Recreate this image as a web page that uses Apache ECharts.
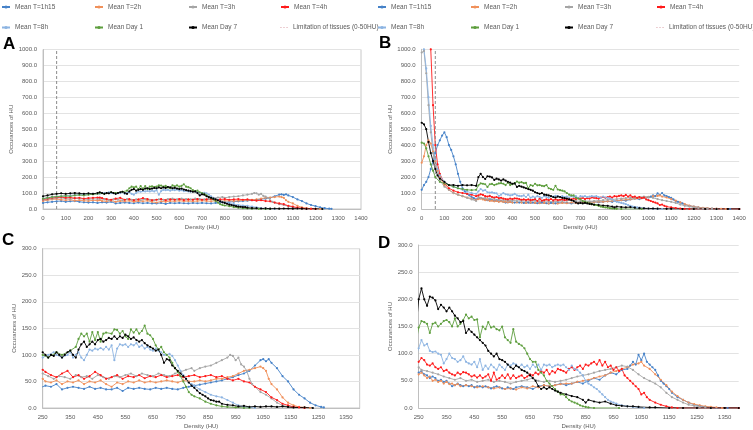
<!DOCTYPE html>
<html><head><meta charset="utf-8">
<script src="https://cdn.jsdelivr.net/npm/echarts@6/dist/echarts.min.js"></script>
<style>html,body{margin:0;padding:0;background:#fff}#c{width:753px;height:430px}</style>
</head><body><div id="c"></div>
<script>
// ---------- DATA ----------
const seriesNames = ['Mean T=1h15','Mean T=2h','Mean T=3h','Mean T=4h','Mean T=8h','Mean Day 1','Mean Day 7'];
const limitName = 'Limitation of tissues (0-50HU)';
const limitHU = [[60,0],[60,1000]];
const xTicksAB = [0,100,200,300,400,500,600,700,800,900,1000,1100,1200,1300,1400];
const xTicksCD = [250,350,450,550,650,750,850,950,1050,1150,1250,1350];

// Data set shown in panels A and C
const A_T1h15 = [[0,38],[20,42],[40,45],[60,48],[80,50],[100,45],[120,48],[140,50],[160,45],[180,42],[200,40],[220,42],[240,38],[260,42],[280,40],[300,45],[320,35],[340,38],[360,40],[380,38],[400,36],[420,40],[440,36],[460,38],[480,35],[500,35],[520,38],[540,32],[560,38],[580,36],[600,38],[620,36],[640,35],[660,38],[680,36],[700,38],[720,36],[740,35],[760,38],[780,40],[800,42],[820,44],[840,46],[860,48],[880,50],[900,52],[920,55],[940,58],[960,62],[980,65],[1000,70],[1020,80],[1040,90],[1050,92],[1060,88],[1070,92],[1080,85],[1100,75],[1120,60],[1140,50],[1160,35],[1180,25],[1200,18],[1220,10],[1240,5],[1260,2],[1270,1]];
const A_T2h = [[0,50],[20,55],[40,60],[60,62],[80,58],[100,55],[120,58],[140,52],[160,55],[180,52],[200,50],[220,55],[240,52],[250,55],[260,50],[280,48],[300,52],[320,45],[340,50],[360,48],[380,52],[400,45],[420,50],[440,48],[460,52],[480,45],[500,40],[520,48],[540,45],[560,50],[580,48],[600,52],[620,48],[640,50],[660,48],[680,50],[700,52],[720,50],[740,48],[760,52],[780,50],[800,50],[820,52],[840,50],[860,52],[880,55],[900,55],[920,58],[940,60],[960,65],[980,70],[1000,72],[1020,75],[1040,78],[1050,75],[1060,70],[1070,55],[1080,45],[1100,35],[1120,20],[1140,10],[1160,5],[1180,2],[1200,1],[1220,0]];
const A_T3h = [[0,55],[20,60],[40,65],[60,68],[80,70],[100,65],[120,62],[140,68],[160,65],[180,62],[200,60],[220,64],[240,62],[250,65],[270,60],[290,55],[310,60],[330,58],[350,55],[370,62],[390,58],[410,60],[430,55],[450,62],[470,58],[490,55],[510,60],[530,58],[550,62],[570,65],[590,60],[610,65],[630,62],[650,60],[670,65],[690,62],[710,60],[730,65],[750,68],[770,72],[790,75],[800,70],[820,75],[840,78],[860,80],[880,85],[900,90],[920,95],[930,100],[940,98],[950,90],[960,95],[970,82],[980,78],[990,70],[1000,55],[1010,45],[1020,40],[1040,30],[1060,25],[1080,18],[1100,10],[1120,5],[1140,2],[1160,0]];
const A_T4h = [[0,60],[20,65],[40,70],[60,72],[80,75],[100,70],[120,72],[140,68],[160,70],[180,65],[200,68],[220,70],[240,72],[250,72],[260,68],[280,62],[300,58],[320,65],[340,70],[360,58],[380,62],[400,55],[420,60],[440,68],[460,62],[480,55],[500,58],[520,62],[540,55],[560,60],[580,58],[600,62],[620,56],[640,60],[660,58],[680,62],[700,58],[720,60],[740,62],[760,58],[780,60],[800,62],[820,58],[840,60],[860,62],[880,58],[900,60],[920,55],[940,52],[960,55],[980,50],[1000,48],[1020,40],[1040,35],[1060,30],[1080,20],[1100,15],[1120,8],[1140,5],[1160,2],[1180,1],[1200,0]];
const A_T8h = [[0,65],[20,70],[40,75],[60,78],[80,80],[100,82],[120,85],[140,88],[160,90],[180,88],[200,92],[220,95],[240,95],[250,95],[270,100],[290,105],[300,100],[320,95],[340,100],[350,105],[360,95],[370,100],[380,105],[390,95],[400,90],[410,100],[420,110],[430,108],[440,112],[450,110],[460,113],[470,110],[480,115],[490,110],[500,118],[510,90],[520,112],[530,120],[540,118],[550,120],[560,115],[570,120],[580,118],[590,122],[600,115],[610,118],[620,112],[630,115],[640,110],[650,108],[660,112],[670,108],[680,105],[690,100],[700,100],[710,102],[720,98],[730,90],[740,80],[750,70],[760,62],[770,55],[780,48],[790,45],[800,42],[820,35],[840,30],[860,25],[880,22],[900,20],[920,15],[940,10],[960,5],[980,2],[1000,1],[1020,0]];
const A_Day1 = [[0,65],[20,70],[40,75],[60,78],[80,80],[100,82],[120,80],[140,85],[160,88],[180,85],[200,90],[220,92],[240,95],[250,100],[270,95],[300,105],[320,100],[350,108],[370,115],[380,130],[390,140],[400,135],[410,140],[420,125],[430,143],[440,128],[450,143],[460,125],[470,140],[480,142],[500,140],[510,148],[520,147],[530,140],[540,145],[550,135],[560,130],[570,148],[580,142],[590,148],[600,140],[610,145],[620,155],[630,140],[640,137],[650,130],[660,118],[670,110],[680,115],[690,105],[700,100],[710,95],[720,85],[730,75],[740,68],[750,60],[760,50],[770,40],[780,30],[790,25],[800,22],[820,18],[840,12],[860,8],[880,5],[900,3],[920,2],[950,1],[980,0],[1000,0]];
const A_Day7 = [[0,80],[20,85],[40,92],[60,95],[80,98],[100,95],[120,98],[140,100],[160,98],[180,95],[200,98],[220,95],[240,100],[250,105],[260,100],[270,95],[280,100],[290,98],[300,105],[310,100],[320,95],[330,100],[340,105],[350,108],[360,100],[370,95],[380,110],[390,120],[400,125],[410,115],[420,120],[430,125],[440,120],[450,128],[460,130],[470,125],[480,128],[490,132],[500,130],[510,135],[520,130],[530,135],[540,132],[550,138],[560,135],[570,130],[580,133],[590,128],[600,125],[610,128],[620,122],[630,118],[640,115],[650,112],[660,108],[670,110],[680,100],[690,85],[700,92],[710,90],[720,80],[730,75],[740,70],[750,65],[760,60],[770,55],[780,48],[790,42],[800,38],[810,33],[820,28],[830,25],[840,22],[850,18],[860,15],[870,14],[880,12],[890,12],[900,8],[920,6],[940,5],[960,3],[980,4],[1000,2],[1020,3],[1040,2],[1060,3],[1080,3],[1100,2],[1120,3],[1140,2],[1160,1],[1200,1],[1230,0]];

// Data set shown in panels B and D
const B_T1h15 = [[0,120],[10,150],[20,170],[30,200],[40,250],[50,300],[60,350],[70,400],[80,430],[90,460],[100,480],[110,450],[120,400],[130,370],[140,330],[150,280],[160,220],[170,170],[180,130],[190,110],[200,95],[210,85],[220,75],[230,68],[240,60],[250,65],[260,68],[270,62],[280,60],[290,55],[300,58],[310,55],[320,50],[330,52],[340,48],[350,50],[360,45],[370,40],[380,42],[390,45],[400,42],[410,40],[420,42],[430,40],[440,42],[450,38],[460,40],[470,40],[480,38],[490,40],[500,38],[510,36],[520,38],[530,40],[540,38],[550,36],[560,35],[570,38],[580,36],[590,35],[600,38],[620,40],[640,38],[660,35],[680,40],[700,42],[720,40],[740,42],[760,45],[780,42],[800,45],[820,48],[840,45],[860,50],[880,55],[900,52],[920,60],[940,65],[960,62],[980,70],[1000,72],[1010,78],[1020,85],[1030,80],[1040,98],[1050,88],[1060,100],[1070,85],[1080,80],[1090,75],[1100,70],[1110,60],[1120,50],[1130,45],[1140,40],[1150,35],[1160,28],[1180,20],[1200,15],[1220,10],[1240,6],[1260,4],[1280,2],[1300,1],[1320,0],[1360,0],[1400,0]];
const B_T2h = [[0,290],[10,330],[20,400],[30,430],[40,410],[50,360],[60,300],[70,240],[80,200],[100,150],[120,120],[140,100],[160,90],[180,80],[200,72],[220,65],[240,55],[250,62],[260,65],[270,60],[280,55],[290,58],[300,50],[310,52],[320,48],[330,50],[340,45],[350,48],[360,44],[370,45],[380,42],[390,44],[400,40],[420,42],[440,40],[460,38],[480,40],[500,38],[520,36],[540,38],[560,35],[580,36],[600,34],[620,38],[640,36],[660,40],[680,38],[700,42],[720,40],[740,42],[760,44],[780,45],[800,45],[820,48],[840,50],[860,52],[880,55],[900,58],[920,60],[940,65],[960,68],[980,72],[1000,75],[1020,80],[1040,82],[1050,85],[1060,78],[1080,72],[1100,62],[1120,52],[1140,42],[1160,30],[1180,22],[1200,15],[1220,10],[1240,7],[1260,5],[1280,3],[1300,2],[1320,1],[1340,0],[1400,0]];
const B_T3h = [[0,980],[10,990],[20,850],[30,650],[40,480],[50,350],[60,270],[70,220],[80,180],[100,140],[120,120],[140,100],[160,90],[180,80],[200,70],[220,60],[240,50],[250,75],[260,70],[280,68],[300,65],[320,62],[340,58],[360,55],[380,52],[400,55],[420,50],[440,52],[460,48],[480,50],[500,52],[520,48],[540,50],[560,48],[580,45],[600,48],[620,50],[640,52],[660,55],[680,50],[700,48],[720,50],[740,48],[760,50],[780,52],[800,55],[820,58],[840,60],[860,62],[880,65],[900,68],[920,70],[940,72],[960,75],[980,78],[1000,76],[1020,70],[1040,62],[1060,55],[1080,50],[1100,45],[1120,38],[1140,28],[1160,20],[1180,15],[1200,10],[1220,6],[1240,4],[1260,2],[1280,1],[1300,0],[1400,0]];
const B_T4h = [[0,2500],[10,2000],[20,1600],[30,1250],[40,1000],[50,650],[60,400],[70,280],[80,220],[100,160],[120,130],[140,115],[160,105],[180,100],[200,95],[220,90],[240,80],[250,85],[260,92],[270,88],[280,80],[290,78],[300,82],[310,75],[320,72],[330,75],[340,68],[350,70],[360,65],[370,62],[380,60],[390,65],[400,62],[410,66],[420,65],[430,62],[440,58],[450,60],[460,56],[470,60],[480,55],[490,58],[500,62],[510,50],[520,65],[530,52],[540,55],[550,60],[560,55],[570,62],[580,54],[590,60],[600,55],[610,58],[620,60],[630,55],[640,58],[650,62],[660,60],[670,65],[680,62],[690,68],[700,65],[710,70],[720,62],[730,68],[740,65],[750,72],[760,70],[770,68],[780,65],[790,72],[800,75],[810,70],[820,75],[830,78],[840,72],[850,80],[860,78],[870,82],[880,85],[890,80],[900,88],[910,78],[920,85],[930,75],[940,78],[950,70],[960,75],[970,68],[980,72],[990,60],[1000,55],[1010,50],[1020,45],[1030,40],[1040,35],[1050,25],[1060,28],[1070,20],[1080,15],[1100,10],[1120,6],[1140,3],[1160,1],[1180,0],[1400,0]];
const B_T8h = [[0,1080],[10,1000],[20,880],[30,700],[40,520],[50,400],[60,310],[70,250],[80,210],[100,170],[120,150],[140,140],[160,130],[180,120],[200,110],[220,100],[240,95],[250,110],[260,125],[270,115],[280,118],[290,105],[300,103],[310,104],[320,100],[330,98],[340,82],[350,90],[360,100],[370,92],[380,90],[390,85],[400,88],[410,95],[420,85],[430,82],[440,80],[450,85],[460,75],[470,90],[480,70],[490,78],[500,72],[510,80],[520,75],[530,70],[540,80],[550,75],[560,70],[570,80],[580,78],[590,82],[600,80],[610,75],[620,80],[630,75],[640,78],[650,72],[660,80],[670,75],[680,80],[690,70],[700,80],[710,78],[720,80],[730,75],[740,78],[750,80],[760,78],[770,80],[780,75],[790,70],[800,78],[810,72],[820,70],[830,65],[840,60],[850,50],[860,45],[870,42],[880,38],[890,35],[900,30],[910,25],[920,20],[930,15],[940,12],[950,10],[960,8],[980,5],[1000,3],[1020,2],[1040,1],[1060,0]];
const B_Day1 = [[0,415],[10,410],[20,380],[30,330],[40,280],[50,240],[60,200],[80,170],[100,160],[120,150],[140,140],[160,130],[180,125],[200,120],[220,118],[240,120],[250,148],[260,160],[270,158],[280,155],[290,138],[300,155],[310,157],[320,150],[330,155],[340,160],[350,162],[360,158],[370,150],[380,165],[390,150],[400,155],[410,162],[420,172],[430,165],[440,168],[450,162],[460,163],[470,130],[480,150],[490,145],[500,158],[510,148],[520,150],[530,145],[540,143],[550,150],[560,130],[570,125],[580,120],[590,145],[600,122],[610,118],[620,115],[630,110],[640,100],[650,90],[660,85],[670,85],[680,70],[690,65],[700,60],[710,50],[720,45],[730,40],[740,35],[750,30],[760,25],[770,25],[780,20],[790,15],[800,12],[810,10],[820,8],[830,5],[840,3],[850,2],[860,1],[880,0],[970,0]];
const B_Day7 = [[0,540],[10,530],[20,500],[30,420],[40,350],[50,300],[60,250],[70,210],[80,190],[100,170],[120,150],[140,150],[160,145],[180,150],[200,148],[220,150],[240,145],[250,200],[260,220],[270,200],[280,188],[290,205],[300,203],[310,198],[320,182],[330,190],[340,185],[350,178],[360,185],[370,178],[380,170],[390,165],[400,158],[410,160],[420,138],[430,145],[440,140],[450,135],[460,130],[470,125],[480,120],[490,115],[500,105],[510,100],[520,95],[530,100],[540,90],[550,88],[560,85],[570,80],[580,75],[590,72],[600,78],[610,75],[620,70],[630,68],[640,65],[650,60],[660,55],[670,50],[680,40],[690,35],[700,38],[710,35],[720,38],[730,35],[740,32],[750,30],[760,28],[780,25],[800,22],[820,20],[840,15],[850,10],[860,15],[880,12],[900,10],[920,12],[940,8],[960,5],[980,4],[1000,3],[1020,3],[1040,2],[1080,1],[1100,1],[1150,0],[1200,0],[1250,0],[1300,0],[1350,0],[1400,0]];

const setA = [A_T1h15, A_T2h, A_T3h, A_T4h, A_T8h, A_Day1, A_Day7];
const setB = [B_T1h15, B_T2h, B_T3h, B_T4h, B_T8h, B_Day1, B_Day7];

// ---------- STYLE ----------
const colors = ['#4682C8','#F0905A','#A5A5A5','#FF1A1A','#8DB4E2','#5E9E3E','#000000'];
const FONT = 'Liberation Sans';
const panels = [
  {letter:'A', grid:{left:43, top:49.5, width:318, height:159.5}, xmin:0, xmax:1400, ymax:1000, yint:100, ticks:xTicksAB, data:setA, border:true, limit:true},
  {letter:'B', grid:{left:421.7, top:49.3, width:317.5, height:159.7}, xmin:0, xmax:1400, ymax:1000, yint:100, ticks:xTicksAB, data:setB, border:false, limit:true},
  {letter:'C', grid:{left:42.7, top:248.7, width:317, height:160.5}, xmin:250, xmax:1400, ymax:300, yint:50, ticks:xTicksCD, data:setA, border:true, limit:false},
  {letter:'D', grid:{left:418.7, top:245, width:320, height:164}, xmin:250, xmax:1400, ymax:300, yint:50, ticks:xTicksCD, data:setB, border:false, limit:false}
];
const letterPos = [[3,36],[379,35],[2,232],[378,235]];

const grids=[], xAxes=[], yAxes=[], series=[];
panels.forEach((p,i)=>{
  grids.push(Object.assign({show:true, borderWidth:p.border?1:0, borderColor:'#c8c8c8', backgroundColor:'transparent'}, p.grid));
  xAxes.push({type:'value', gridIndex:i, min:p.xmin, max:p.xmax,
    name:'Density (HU)', nameLocation:'middle', nameGap:15,
    nameTextStyle:{fontFamily:FONT, fontSize:6, color:'#595959'},
    axisLine:{show:true, onZero:false, lineStyle:{color:'#bfbfbf', width:1}},
    axisTick:{show:false, customValues:p.ticks},
    splitLine:{show:false},
    axisLabel:{customValues:p.ticks, formatter:v=>String(v), fontFamily:FONT, fontSize:6, color:'#595959', margin:6}
  });
  yAxes.push({type:'value', gridIndex:i, min:0, max:p.ymax, interval:p.yint,
    name:'Occurances of HU', nameLocation:'middle', nameGap:25, nameRotate:90,
    nameTextStyle:{fontFamily:FONT, fontSize:6, color:'#595959'},
    axisLine:{show:true, lineStyle:{color:'#bfbfbf', width:1}},
    axisTick:{show:false},
    splitLine:{show:true, lineStyle:{color:'#e3e3e3', width:1}},
    axisLabel:{formatter:v=>v.toFixed(1), fontFamily:FONT, fontSize:6, color:'#595959', margin:6}
  });
  p.data.forEach((d,k)=>{
    series.push({type:'line', name:seriesNames[k], xAxisIndex:i, yAxisIndex:i, data:d,
      color:colors[k], symbol:'circle', symbolSize:2.2, showSymbol:true, clip:true,
      lineStyle:{width:0.9, color:colors[k]}, itemStyle:{color:colors[k]}, animation:false, silent:true});
  });
  series.push({type:'line', name:limitName, xAxisIndex:i, yAxisIndex:i, data:p.limit?limitHU:[],
    color:'#D89AA2', symbol:'none', clip:true,
    lineStyle:{width:0.9, type:[3,2], color:'#7f7f7f'}, itemStyle:{color:'#D89AA2'}, animation:false, silent:true});
});

// legends: 8 items per side, positioned like the original
const allNames = seriesNames.concat([limitName]);
const colX = [1,94,188,280];
const dashIcon = 'path://M0,0 L3,0 L3,1 L0,1 Z M5,0 L8,0 L8,1 L5,1 Z M10,0 L13,0 L13,1 L10,1 Z';
const legends=[];
[0,376].forEach(off=>{
  allNames.forEach((n,k)=>{
    const item = {name:n};
    if (k===7) item.icon = dashIcon;
    legends.push({data:[item],
      left: off + colX[k%4], top: k<4 ? 3.5 : 24, padding:0, itemWidth:8, itemHeight: k===7 ? 2 : 4, itemGap:4,
      selectedMode:false,
      textStyle:{fontFamily:FONT, fontSize:6.5, color:'#595959'},
      itemStyle:{borderWidth:0}
    });
  });
});

const chart = echarts.init(document.getElementById('c'), null, {renderer:'canvas'});
chart.setOption({
  animation:false,
  backgroundColor:'#ffffff',
  grid:grids, xAxis:xAxes, yAxis:yAxes, series:series, legend:legends,
  graphic: panels.map((p,i)=>({type:'text', left:letterPos[i][0], top:letterPos[i][1],
    style:{text:p.letter, font:'bold 17px "Liberation Sans"', fill:'#000'}}))
});
</script></body></html>
